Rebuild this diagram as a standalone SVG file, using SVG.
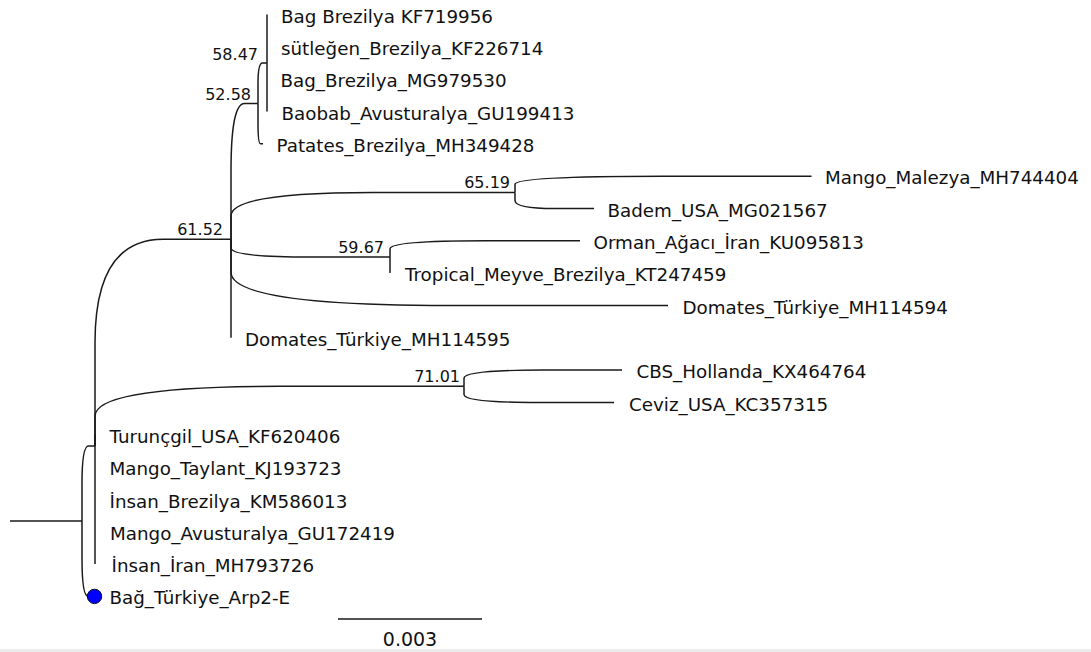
<svg xmlns="http://www.w3.org/2000/svg" width="1091" height="652" viewBox="0 0 1091 652">
<style>
.br{fill:none;stroke:#1a1a1a;stroke-width:1.5}
.tip{font-family:"DejaVu Sans","Noto Sans",sans-serif;font-size:18.3px;fill:#111}
.sup{font-family:"DejaVu Sans","Noto Sans",sans-serif;font-size:16px;fill:#111;text-anchor:end}
.scl{font-family:"DejaVu Sans","Noto Sans",sans-serif;font-size:19px;fill:#111;text-anchor:middle}
</style>
<rect x="0" y="0" width="1091" height="652" fill="#ffffff"/>
<rect x="0" y="649" width="1091" height="3" fill="#ececec"/>
<g id="connectors">
<path class="br" d="M10 521 H82"/>
<path class="br" d="M82 521 V483.5 Q82 446 88.5 446 H95"/>
<path class="br" d="M82 521 V558.7 Q82 596.4 88.25 596.4 H94.5"/>
<path class="br" d="M95 446 V342.6 Q95 239.2 163 239.2 H231"/>
<path class="br" d="M95 446 V416.15 Q95 386.3 279.5 386.3 H464"/>
<path class="br" d="M95 434.8 V564.1"/>
<path class="br" d="M231 239.2 V171.3 Q231 103.4 244.5 103.4 H258"/>
<path class="br" d="M231 239.2 V215.8 Q231 192.4 373 192.4 H515"/>
<path class="br" d="M231 239.2 V248.1 Q231 257 310.5 257 H390"/>
<path class="br" d="M231 239.2 V272.35 Q231 305.5 449.5 305.5 H668"/>
<path class="br" d="M231 239.2 V337.8"/>
<path class="br" d="M258 103.4 V83.2 Q258 63 262.5 63 H267"/>
<path class="br" d="M258 103.4 V123.6 Q258 143.8 260.5 143.8 H263"/>
<path class="br" d="M267 14.5 V111.5"/>
<path class="br" d="M515 192.4 V184.3 Q515 176.2 663.25 176.2 H811.5"/>
<path class="br" d="M515 192.4 V200.45 Q515 208.5 554.5 208.5 H594"/>
<path class="br" d="M390 257 V248.9 Q390 240.8 485 240.8 H580"/>
<path class="br" d="M390 257 V273.1"/>
<path class="br" d="M464 386.3 V378.2 Q464 370.1 543 370.1 H622"/>
<path class="br" d="M464 386.3 V394.4 Q464 402.5 539 402.5 H614"/>
<path class="br" d="M338 619 H482"/>
</g>
<g id="support-labels">
<text class="sup" x="258" y="60">58.47</text>
<text class="sup" x="251" y="100">52.58</text>
<text class="sup" x="223" y="235">61.52</text>
<text class="sup" x="510" y="188">65.19</text>
<text class="sup" x="384" y="253">59.67</text>
<text class="sup" x="460" y="382">71.01</text>
</g>
<g id="tip-bag-brezilya-kf719956"><text class="tip" x="281" y="22.5">Bag Brezilya KF719956</text></g>
<g id="tip-sutlegen"><text class="tip" x="281" y="54.8">sütleğen_Brezilya_KF226714</text></g>
<g id="tip-bag-brezilya-mg979530"><text class="tip" x="280.5" y="87.2">Bag_Brezilya_MG979530</text></g>
<g id="tip-baobab"><text class="tip" x="281.5" y="119.5">Baobab_Avusturalya_GU199413</text></g>
<g id="tip-patates"><text class="tip" x="276.5" y="151.8">Patates_Brezilya_MH349428</text></g>
<g id="tip-mango-malezya"><text class="tip" x="825" y="184.2">Mango_Malezya_MH744404</text></g>
<g id="tip-badem"><text class="tip" x="607.5" y="216.5">Badem_USA_MG021567</text></g>
<g id="tip-orman"><text class="tip" x="593.5" y="248.8">Orman_Ağacı_İran_KU095813</text></g>
<g id="tip-tropical"><text class="tip" x="405" y="281.1">Tropical_Meyve_Brezilya_KT247459</text></g>
<g id="tip-domates-mh114594"><text class="tip" x="682.5" y="313.5">Domates_Türkiye_MH114594</text></g>
<g id="tip-domates-mh114595"><text class="tip" x="245" y="345.8">Domates_Türkiye_MH114595</text></g>
<g id="tip-cbs"><text class="tip" x="636.5" y="378.1">CBS_Hollanda_KX464764</text></g>
<g id="tip-ceviz"><text class="tip" x="629" y="410.5">Ceviz_USA_KC357315</text></g>
<g id="tip-turuncgil"><text class="tip" x="109.5" y="442.8">Turunçgil_USA_KF620406</text></g>
<g id="tip-mango-taylant"><text class="tip" x="109.5" y="475.1">Mango_Taylant_KJ193723</text></g>
<g id="tip-insan-brezilya"><text class="tip" x="109.5" y="507.5">İnsan_Brezilya_KM586013</text></g>
<g id="tip-mango-avusturalya"><text class="tip" x="110" y="539.8">Mango_Avusturalya_GU172419</text></g>
<g id="tip-insan-iran"><text class="tip" x="111.5" y="572.1">İnsan_İran_MH793726</text></g>
<g id="tip-bag-turkiye">
<circle cx="94.5" cy="596.4" r="7.2" fill="#0000ff" stroke="#111" stroke-width="1"/>
<text class="tip" x="109.5" y="604.4">Bağ_Türkiye_Arp2-E</text>
</g>
<g id="scale-bar"><text class="scl" x="410" y="646">0.003</text></g>
</svg>
